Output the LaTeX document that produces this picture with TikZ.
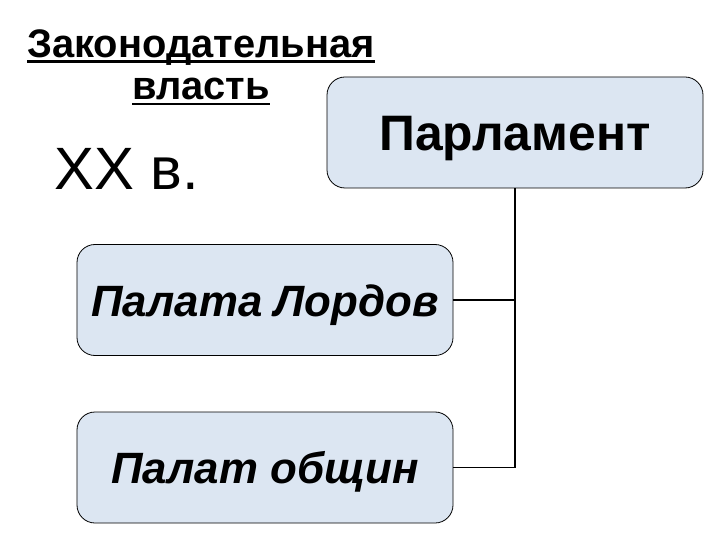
\documentclass[tikz,border=0pt]{standalone}
\usepackage{fontspec}
\setmainfont{Liberation Sans}
\definecolor{boxblue}{RGB}{220,230,242}
\newsavebox{\ulbox}
\newcommand{\thickul}[1]{\sbox{\ulbox}{#1}\rlap{\rule[-5.5bp]{\wd\ulbox}{2.5bp}}\usebox{\ulbox}}

\begin{document}
\begin{tikzpicture}[x=1bp,y=-1bp,
		chamber/.style={draw, line width=0.8bp, rounded corners=18bp, fill=boxblue,
			minimum width=376bp, minimum height=111bp, inner sep=0pt, text depth=0pt},
		link/.style={line width=1.6bp}]
		\useasboundingbox (0,0) rectangle (720,540);

		\node[align=center, anchor=base, inner sep=0pt, font=\fontsize{40}{43}\selectfont\bfseries] (title) at (201,100)
			{\thickul{Законодательная}\\\thickul{власть}};
		\node[anchor=base west, inner sep=0pt, font=\fontsize{60}{72}\selectfont] (age) at (54,190) {XX в.};

		\node[chamber, text height=36bp, font=\fontsize{50}{60}\selectfont\bfseries] (parl) at (515,132.5) {Парламент};
		\node[chamber, text height=32bp, font=\fontsize{44}{52}\selectfont\bfseries\itshape] (lords) at (265,300) {Палата Лордов};
		\node[chamber, text height=32bp, font=\fontsize{44}{52}\selectfont\bfseries\itshape] (commons) at (265,467.5) {Палат общин};

		\draw[link] (parl.south) |- (lords.east);
		\draw[link] (parl.south) |- (commons.east);
	\end{tikzpicture}
\end{document}
